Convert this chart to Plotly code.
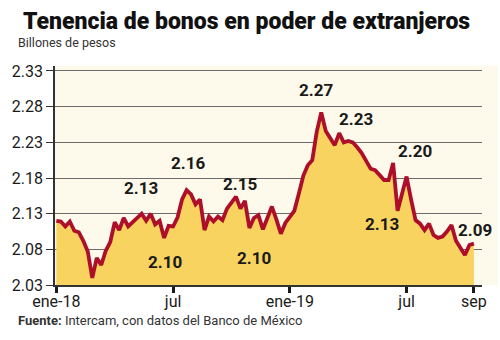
import plotly.graph_objects as go

# Weekly holdings of government bonds by foreign investors (trillions of pesos)
weeks = list(range(94))
holdings = [
    2.120, 2.119, 2.112, 2.119, 2.106, 2.104, 2.092, 2.077, 2.040, 2.068,
    2.058, 2.078, 2.090, 2.118, 2.107, 2.124, 2.112, 2.118, 2.125, 2.130,
    2.120, 2.130, 2.115, 2.120, 2.096, 2.113, 2.112, 2.125, 2.150, 2.163,
    2.157, 2.143, 2.150, 2.107, 2.126, 2.119, 2.126, 2.121, 2.137, 2.145,
    2.154, 2.137, 2.148, 2.110, 2.124, 2.128, 2.108, 2.124, 2.140, 2.122,
    2.102, 2.117, 2.126, 2.134, 2.158, 2.183, 2.198, 2.205, 2.245, 2.272,
    2.246, 2.236, 2.226, 2.243, 2.230, 2.232, 2.230, 2.223, 2.215, 2.204,
    2.193, 2.191, 2.183, 2.177, 2.177, 2.201, 2.134, 2.157, 2.182, 2.150,
    2.121, 2.116, 2.107, 2.116, 2.100, 2.096, 2.098, 2.105, 2.114, 2.092,
    2.082, 2.072, 2.086, 2.088,
]

y_ticks = [2.03, 2.08, 2.13, 2.18, 2.23, 2.28, 2.33]
x_tick_weeks = [0, 26, 52, 78, 93]
x_tick_labels = ["ene-18", "jul", "ene-19", "jul", "sep"]

# Weeks whose values are called out on the chart
labelled_weeks = [19, 29, 40, 24, 50, 59, 65, 75, 76, 93]
# Text offsets (px) for each callout
label_offsets = {
    19: (-1, 26), 29: (1, 27), 40: (4, 13), 24: (1, -24), 50: (-27, -24),
    59: (-5, 22), 65: (8, 22), 75: (22, 12), 76: (-16, -13), 93: (1, 14),
}

LINE = "#ad0f2a"
FILL = "#f8d35f"
CREAM = "#fdf9eb"
INK = "#1a1a1a"

fig = go.Figure()
fig.add_trace(go.Scatter(
    x=weeks, y=holdings, mode="lines",
    line=dict(color=LINE, width=3.8),
    fill="tozeroy", fillcolor=FILL,
    hoverinfo="skip", showlegend=False,
))

for w in labelled_weeks:
    dx, dy = label_offsets[w]
    fig.add_annotation(
        x=w, y=holdings[w], text=f"<b>{holdings[w]:.2f}</b>",
        showarrow=False, xanchor="center", yanchor="middle",
        xshift=dx, yshift=dy,
        font=dict(family="Liberation Sans Narrow, Roboto", size=17, color=INK),
    )

# Plot region: x 47..482 px, y 66..285 px
L, R, T, B = 47, 482, 66, 285
W, H = 500, 340

def px_x(px):
    return (px - L) / (R - L)

def px_y(py):
    return (B - py) / (B - T)

# cream panel extends a little to the right of the gridlines
fig.add_shape(type="rect", xref="paper", yref="paper",
              x0=0, x1=px_x(498), y0=0, y1=1,
              fillcolor=CREAM, line_width=0, layer="below")

fig.add_annotation(
    xref="paper", yref="paper", x=px_x(12), y=px_y(21),
    xanchor="left", yanchor="middle", showarrow=False,
    text="Tenencia de bonos en poder de extranjeros",
    font=dict(family="Roboto", size=23, color="#111111", weight=900),
)
fig.add_annotation(
    xref="paper", yref="paper", x=px_x(7), y=px_y(43),
    xanchor="left", yanchor="middle", showarrow=False,
    text="Billones de pesos",
    font=dict(family="Roboto", size=12.5, color="#333333"),
)
fig.add_annotation(
    xref="paper", yref="paper", x=px_x(7), y=px_y(320),
    xanchor="left", yanchor="middle", showarrow=False,
    text="<b>Fuente:</b> Intercam, con datos del Banco de México",
    font=dict(family="Roboto", size=13, color="#333333"),
)

fig.update_layout(
    width=W, height=H,
    margin=dict(l=L, r=W - R, t=T, b=H - B),
    paper_bgcolor="white", plot_bgcolor=CREAM,
    xaxis=dict(
        range=[-0.3, 94.8], tickmode="array",
        tickvals=x_tick_weeks, ticktext=x_tick_labels,
        showgrid=False, zeroline=False,
        showline=True, linecolor="#333333", linewidth=1.5,
        ticks="outside", ticklen=6, tickwidth=3, tickcolor=INK,
        ticklabelstandoff=-5,
        tickfont=dict(family="Liberation Sans Narrow, Roboto", size=16, color=INK),
    ),
    yaxis=dict(
        range=[2.03, 2.337], tickmode="array",
        tickvals=y_ticks, ticktext=[f"{v:.2f}" for v in y_ticks],
        showgrid=True, gridcolor="#6b6b6b", gridwidth=1,
        zeroline=False,
        showline=True, linecolor="#333333", linewidth=1.5,
        ticks="outside", ticklen=7, tickwidth=1, tickcolor="#333333",
        tickfont=dict(family="Liberation Sans Narrow, Roboto", size=16, color=INK),
    ),
)

fig.write_html("out.html")
